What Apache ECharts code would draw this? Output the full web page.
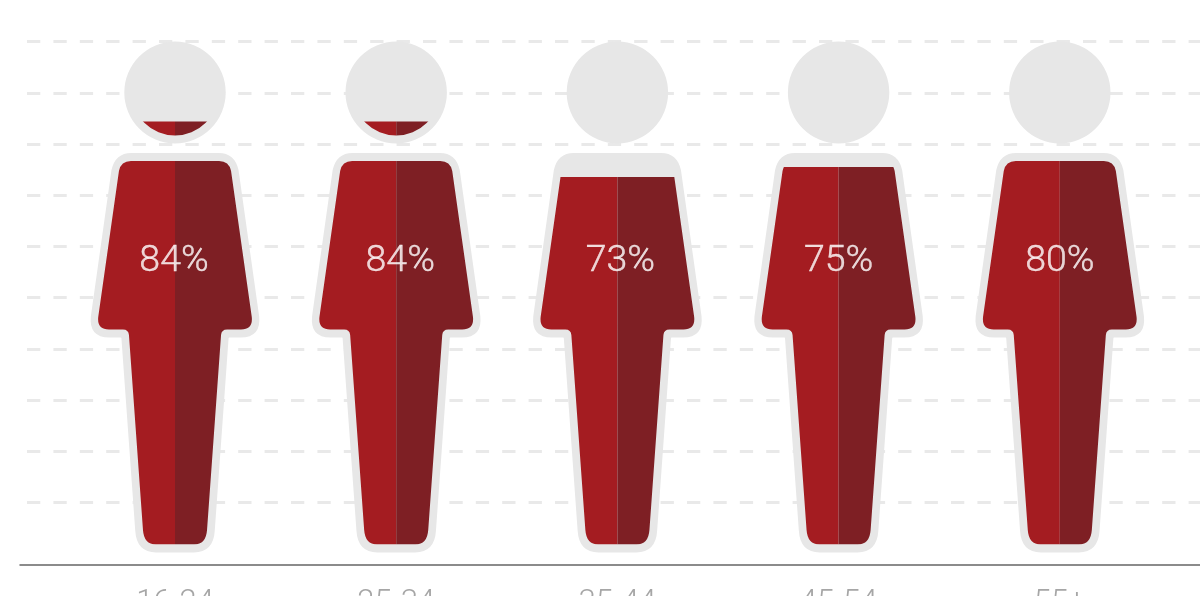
<!DOCTYPE html>
<html>
<head>
<meta charset="utf-8">
<style>html,body{margin:0;padding:0;background:#fff;overflow:hidden}#chart{width:1200px;height:596px}</style>
<script src="https://cdn.jsdelivr.net/npm/echarts@6/dist/echarts.min.js"></script>
</head>
<body>
<div id="chart"></div>
<script>
const ageGroups = ['16-24', '25-34', '35-44', '45-54', '55+'];
const shares = [84, 84, 73, 75, 80];

// Figure outlines, in pixels around the figure's vertical centre line.
const HALF_HEAD_L = 'M0 49.5A43 43 0 0 0 0 135.5Z';
const HALF_BODY_L = 'M0 161L-44 161Q-54 161-56 171L-76.7 317Q-78 329.5-66 329.5L-52 329.5Q-46.5 329.5-46 335L-32 530Q-31 544.5-19 544.5L0 544.5Z';
const HALF_HEAD_R = 'M0 49.5A43 43 0 0 1 0 135.5Z';
const HALF_BODY_R = 'M0 161L44 161Q54 161 56 171L76.7 317Q78 329.5 66 329.5L52 329.5Q46.5 329.5 46 335L32 530Q31 544.5 19 544.5L0 544.5Z';
const LEFT_PATH = 'path://' + HALF_HEAD_L + HALF_BODY_L;
const RIGHT_PATH = 'path://' + HALF_HEAD_R + HALF_BODY_R;

// Pale halo around the figure, 8px wider than the outlines above.
const HALO_PATH = 'path://M0 41.5A51 51 0 0 0 0 143.5A51 51 0 0 0 0 41.5Z' +
  'M-44 153Q-60 153-63.9 170L-84.6 316Q-87 337.5-66 337.5L-54.5 337.5Q-54 337.5-53.9 338.2L-40 530.6Q-38.7 552.5-19 552.5' +
  'L19 552.5Q38.7 552.5 40 530.6L53.9 338.2Q54 337.5 54.5 337.5L66 337.5Q87 337.5 84.6 316L63.9 170Q60 153 44 153Z';

const HALF_WIDTH = 76.9;
const HALO_WIDTH = 168.7;
const FIGURE_TOP = 98.3;   // axis value reached by the top of the head
const LABEL_LEVEL = 56.1;  // axis value where the percentage text sits

const GREY = '#e7e7e7';
const DASH_GREY = '#e9e9e9';
const RED = '#a41c21';
const DARK_RED = '#7e1f24';
const FONT = 'Roboto, "Liberation Sans", sans-serif';

// Small horizontal corrections for the percentage text of each figure.
const nudgeFor = i => [-1, 4, 3, 0, 0][i];

const chart = echarts.init(document.getElementById('chart'), null, { renderer: 'canvas' });

function fillSeries(path, color, offset) {
  return {
    type: 'pictorialBar',
    xAxisIndex: 0,
    yAxisIndex: 0,
    symbol: path,
    symbolSize: [HALF_WIDTH, '100%'],
    symbolBoundingData: FIGURE_TOP,
    symbolOffset: [offset, 0],
    symbolClip: true,
    barGap: '-100%',
    itemStyle: { color },
    z: 3,
    silent: true,
    data: shares
  };
}

chart.setOption({
  animation: false,
  grid: [
    { left: 64.4, width: 1106, top: 41, height: 503.5, outerBoundsMode: 'none' },
    { left: 27, right: 0, top: 41.6, height: 512, outerBoundsMode: 'none' },
    { left: 20, right: 0, top: 41, height: 524, outerBoundsMode: 'none' },
    { left: 64.4, width: 1106, top: 41.5, height: 511, outerBoundsMode: 'none' }
  ],
  xAxis: [
    {
      gridIndex: 0,
      type: 'category',
      data: ageGroups,
      axisLine: { show: false },
      axisTick: { show: false },
      axisLabel: {
        margin: 43,
        fontFamily: FONT,
        fontWeight: 300,
        fontSize: 31,
        color: '#a6a6a6',
        interval: 0
      }
    },
    { gridIndex: 1, type: 'value', show: false },
    {
      gridIndex: 2,
      type: 'value',
      axisLine: { show: true, onZero: false, lineStyle: { color: '#666666', width: 1.5 } },
      axisTick: { show: false },
      axisLabel: { show: false },
      splitLine: { show: false }
    },
    { gridIndex: 3, type: 'category', data: ageGroups, show: false }
  ],
  yAxis: [
    { gridIndex: 0, type: 'value', min: 0, max: 100, show: false, splitLine: { show: false } },
    {
      gridIndex: 1,
      type: 'value',
      min: 0,
      max: 100,
      interval: 10,
      axisLine: { show: false },
      axisTick: { show: false },
      axisLabel: { show: false },
      splitLine: {
        show: true,
        showMinLine: false,
        lineStyle: { color: DASH_GREY, width: 3, type: [13.3, 13.1] }
      },
      z: 0
    },
    { gridIndex: 2, type: 'value', show: false },
    { gridIndex: 3, type: 'value', min: 0, max: 100, show: false, splitLine: { show: false } }
  ],
  series: [
    {
      type: 'pictorialBar',
      xAxisIndex: 3,
      yAxisIndex: 3,
      symbol: HALO_PATH,
      symbolSize: [HALO_WIDTH, '100%'],
      symbolBoundingData: 100,
      itemStyle: { color: GREY },
      z: 2,
      silent: true,
      data: shares.map(() => 100)
    },
    fillSeries(LEFT_PATH, RED, '-50%'),
    fillSeries(RIGHT_PATH, DARK_RED, '50%'),
    {
      type: 'scatter',
      xAxisIndex: 0,
      yAxisIndex: 0,
      symbolSize: 1,
      itemStyle: { color: 'rgba(0,0,0,0)' },
      z: 5,
      silent: true,
      data: shares.map((v, i) => ({
        value: [i, LABEL_LEVEL],
        label: {
          show: true,
          position: 'inside',
          offset: [nudgeFor(i), 0],
          formatter: v + '%',
          fontFamily: FONT,
          fontWeight: 300,
          fontSize: 37.5,
          color: '#ffffff',
          textBorderColor: '#ffffff',
          textBorderWidth: 0.4
        }
      }))
    }
  ]
});
</script>
</body>
</html>
